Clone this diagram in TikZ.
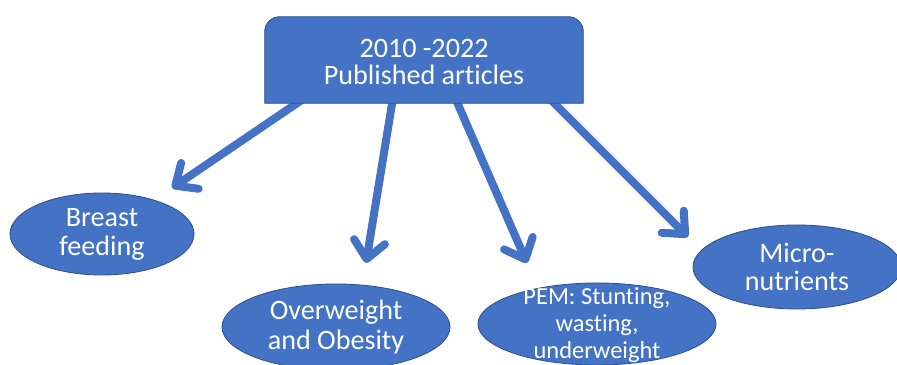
\documentclass[tikz,border=0pt]{standalone}
\usepackage{fontspec}
\setmainfont{Carlito}[Ligatures=NoCommon]
\usepackage{tikz}
\usetikzlibrary{calc,shapes.geometric,arrows.meta,backgrounds}
\definecolor{boxblue}{HTML}{4472C4}
\definecolor{edgeblue}{HTML}{2F528F}

\begin{document}
\begin{tikzpicture}[x=0.025cm, y=-0.025cm,
    topic/.style={ellipse, fill=boxblue, draw=edgeblue, line width=0.6pt, inner sep=0pt},
    topictext/.style={text=white, align=center, font=\fontsize{20}{20.5}\selectfont},
    link/.style={draw=boxblue, line width=0.2cm, -{Straight Barb[length=0.44cm, width=0.78cm, round]}}]
    \useasboundingbox (0,0) rectangle (897,365);
    \clip (0,0) rectangle (897,365);

    \node[topictext, font=\fontsize{20}{19.2}\selectfont, minimum width=7.95cm, minimum height=2.15cm, inner sep=0pt] (box) at (424,60) {};
    \node[topictext, font=\fontsize{20}{19.2}\selectfont] (boxtext) at (424,62) {2010 -2022\\Published articles};

    \node[topic, topictext, minimum width=4.6cm, minimum height=2.05cm] (bf) at (102,234) {Breast\\feeding};
    \node[topic, topictext, font=\fontsize{20}{21.3}\selectfont, minimum width=5.7cm, minimum height=2.15cm] (ow) at (336,327) {Overweight\\and Obesity};
    \node[topic, minimum width=5.95cm, minimum height=2.05cm] (pem) at (597,324) {};
    \node[topictext, font=\fontsize{17.4}{19}\selectfont] (pemtext) at ($(pem.center)+(0,1)$) {PEM: Stunting,\\wasting,\\underweight};
    \node[topic, topictext, minimum width=5.2cm, minimum height=2.1cm] (mn) at (797,267) {Micro-\\nutrients};

    \coordinate (bftip) at ($(bf.center)+(70,-46)$);
    \coordinate (owtip) at ($(ow.center)+(30,-64)$);
    \coordinate (pemtip) at ($(pem.center)+(-70,-61)$);
    \coordinate (mntip) at ($(mn.center)+(-109,-30)$);

    \begin{scope}[on background layer]
        \draw[link] ($(box.south west)!0.129!(box.south east)+(0,-6)$) -- (bftip);
        \draw[link] ($(box.south west)!0.403!(box.south east)+(0,-6)$) -- (owtip);
        \draw[link] ($(box.south west)!0.597!(box.south east)+(0,-6)$) -- (pemtip);
        \draw[link] ($(box.south west)!0.890!(box.south east)+(0,-6)$) -- (mntip);
        \fill[boxblue, draw=edgeblue, line width=0.6pt] (box.south west) [rounded corners=0.375cm] -- (box.north west) -- (box.north east) [sharp corners] -- (box.south east) -- cycle;
    \end{scope}
\end{tikzpicture}
\end{document}
